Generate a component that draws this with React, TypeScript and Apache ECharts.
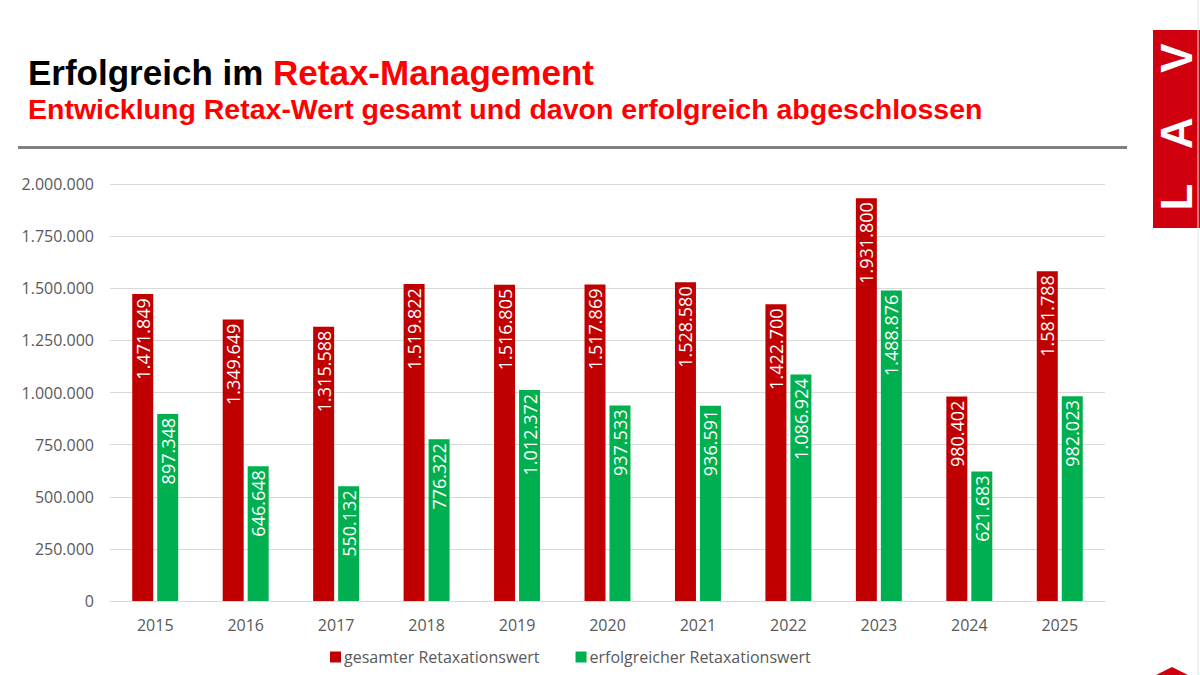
import React, { useEffect, useRef } from "react";
import * as echarts from "echarts";

const years = ["2015", "2016", "2017", "2018", "2019", "2020", "2021", "2022", "2023", "2024", "2025"];
const totalValues = [1471849, 1349649, 1315588, 1519822, 1516805, 1517869, 1528580, 1422700, 1931800, 980402, 1581788];
const successValues = [897348, 646648, 550132, 776322, 1012372, 937533, 936591, 1086924, 1488876, 621683, 982023];
const seriesNames = ["gesamter Retaxationswert", "erfolgreicher Retaxationswert"];

const RED = "#C00000";
const GREEN = "#00B050";
const FONT = "'Open Sans', sans-serif";
const HEAD_FONT = "'Liberation Sans', Arial, sans-serif";

const fmt = (n: number) => String(Math.round(n)).replace(/\B(?=(\d{3})+(?!\d))/g, ".");

export default function App() {
  const ref = useRef<HTMLDivElement>(null);

  useEffect(() => {
    if (!ref.current) return;
    const chart = echarts.init(ref.current, null, { renderer: "svg" });

    const barLabel = {
      show: true,
      position: "insideTop",
      distance: 4,
      rotate: 90,
      align: "right",
      verticalAlign: "middle",
      color: "#ffffff",
      fontSize: 18,
      fontFamily: FONT,
      formatter: (p: any) => fmt(p.value),
    };

    const logoLetter = (ch: string, y: number) => ({
      type: "text",
      x: 1176,
      y,
      rotation: Math.PI / 2,
      style: { text: ch, fill: "#fff", font: `bold 44px ${HEAD_FONT}`, align: "center", verticalAlign: "middle" },
    });

    chart.setOption({
      animation: false,
      backgroundColor: "#ffffff",
      title: {
        left: 23,
        top: 50,
        text: "{a|Erfolgreich im }{b|Retax-Management}",
        subtext: "Entwicklung Retax-Wert gesamt und davon erfolgreich abgeschlossen",
        itemGap: 4,
        textStyle: {
          rich: {
            a: { fontFamily: HEAD_FONT, fontWeight: "bold", fontSize: 35, color: "#000000" },
            b: { fontFamily: HEAD_FONT, fontWeight: "bold", fontSize: 35, color: "#FF0000" },
          },
        },
        subtextStyle: {
          fontFamily: HEAD_FONT,
          fontWeight: "bold",
          fontSize: 28.5,
          color: "#FF0000",
        },
      },
      graphic: [
        // divider under the heading
        { type: "rect", shape: { x: 18, y: 146, width: 1109, height: 3 }, style: { fill: "#808080" } },
        // LAV logo block
        { type: "rect", shape: { x: 1153, y: 30, width: 47, height: 198 }, style: { fill: "#D0000F" } },
        logoLetter("L", 197),
        logoLetter("A", 133),
        logoLetter("V", 58),
        { type: "line", shape: { x1: 1198, y1: 0, x2: 1198, y2: 675 }, style: { stroke: "#e6e6e6", lineWidth: 1 } },
        // roof mark in the corner
        { type: "polygon", shape: { points: [[1156, 675], [1172, 667], [1188, 675]] }, style: { fill: "#D0000F" } },
      ],
      legend: {
        bottom: 5,
        left: 325,
        itemWidth: 11,
        itemHeight: 11,
        itemGap: 36,
        itemStyle: {},
        icon: "rect",
        textStyle: { color: "#595959", fontSize: 16, fontFamily: FONT, padding: [0, 0, 0, -2] },
        data: seriesNames,
      },
      grid: { left: 110, right: 95, top: 184, bottom: 74, containLabel: false },
      xAxis: {
        type: "category",
        data: years,
        axisLine: { lineStyle: { color: "#d9d9d9", width: 1 } },
        axisTick: { show: false },
        axisLabel: { color: "#595959", fontSize: 16, fontFamily: FONT, margin: 16 },
      },
      yAxis: {
        type: "value",
        min: 0,
        max: 2000000,
        interval: 250000,
        axisLine: { show: false },
        axisTick: { show: false },
        splitLine: { lineStyle: { color: "#d9d9d9", width: 1 } },
        axisLabel: { color: "#595959", fontSize: 16, fontFamily: FONT, margin: 16, formatter: (v: number) => fmt(v) },
      },
      series: [
        {
          name: seriesNames[0],
          type: "bar",
          data: totalValues,
          barWidth: 21,
          barGap: "19%",
          itemStyle: { color: RED },
          label: barLabel,
        },
        {
          name: seriesNames[1],
          type: "bar",
          data: successValues,
          barWidth: 21,
          itemStyle: { color: GREEN },
          label: barLabel,
        },
      ],
    });

    return () => chart.dispose();
  }, []);

  return <div ref={ref} style={{ position: "fixed", left: 0, top: 0, width: 1200, height: 675 }} />;
}
